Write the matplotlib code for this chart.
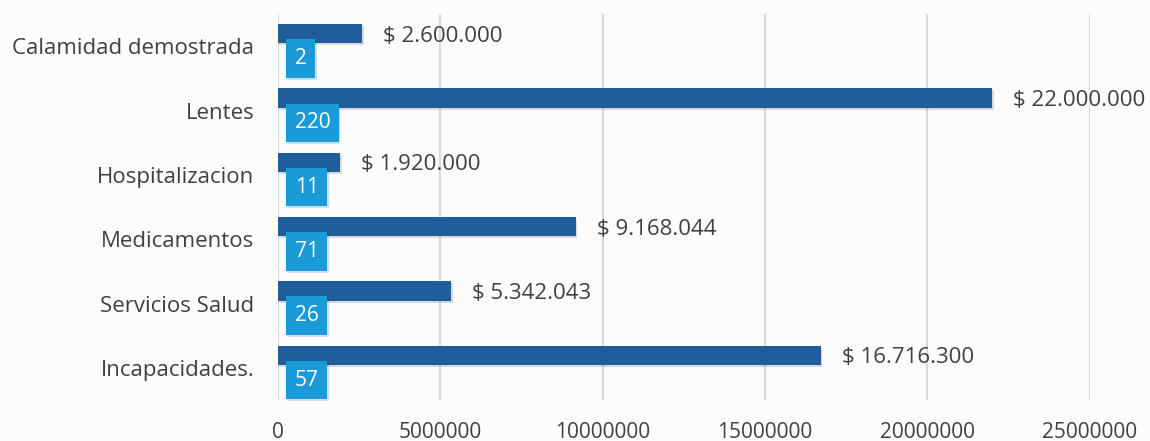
import numpy as np
import matplotlib.pyplot as plt
import matplotlib.patheffects as pe

categorias = ['Incapacidades.', 'Servicios Salud', 'Medicamentos',
              'Hospitalizacion', 'Lentes', 'Calamidad demostrada']
valores = [16716300, 5342043, 9168044, 1920000, 22000000, 2600000]
cantidades = [57, 26, 71, 11, 220, 2]
xticks = [0, 5000000, 10000000, 15000000, 20000000, 25000000]

plt.rcParams['font.family'] = ['Open Sans', 'DejaVu Sans']

fig = plt.figure(figsize=(11.5, 4.41), dpi=100)
fig.patch.set_facecolor('#fbfcfb')
ax = fig.add_axes([0.2417, 0.093, 0.706, 0.875])
ax.set_facecolor('none')

y = np.arange(len(categorias))
shadow = [pe.SimplePatchShadow(offset=(1, -1.5), alpha=0.15), pe.Normal()]

bars = ax.barh(y + 0.195, valores, height=0.30, color='#205e9b', zorder=3)
for b in bars:
    b.set_path_effects(shadow)
ax.barh(y - 0.19, cantidades, height=0.30, color='#1a9ad6', zorder=3)

def fmt(v):
    return '$ ' + f'{v:,}'.replace(',', '.')

for yi, v in zip(y, valores):
    ax.annotate(fmt(v), (v, yi + 0.195), xytext=(15, 0), textcoords='offset points',
                va='center_baseline', ha='left', fontsize=16, color='#404040', zorder=4)

for yi, c in zip(y, cantidades):
    ax.annotate(str(c), (c, yi - 0.19), xytext=(12, 0), textcoords='offset points',
                va='center', ha='left', fontsize=15, color='white', zorder=5,
                bbox=dict(boxstyle='square,pad=0.42', fc='#1a9ad6', ec='none',
                          path_effects=[pe.SimplePatchShadow(offset=(1, -1.5), alpha=0.15), pe.Normal()]))

ax.set_xlim(0, 25000000)
ax.set_ylim(-0.5, len(categorias) - 0.5)
ax.set_xticks(xticks)
ax.set_xticklabels([str(t) for t in xticks])
ax.set_yticks(y)
ax.set_yticklabels(categorias)
ax.tick_params(axis='both', length=0, labelcolor='#404040')
ax.tick_params(axis='y', pad=17, labelsize=16)
ax.tick_params(axis='x', pad=16, labelsize=15)
ax.grid(axis='x', color='#d9d9d9', lw=1.5, zorder=0)
ax.grid(axis='y', visible=False)
for s in ax.spines.values():
    s.set_visible(False)

fig.savefig('out.png', dpi=100, facecolor=fig.get_facecolor())
